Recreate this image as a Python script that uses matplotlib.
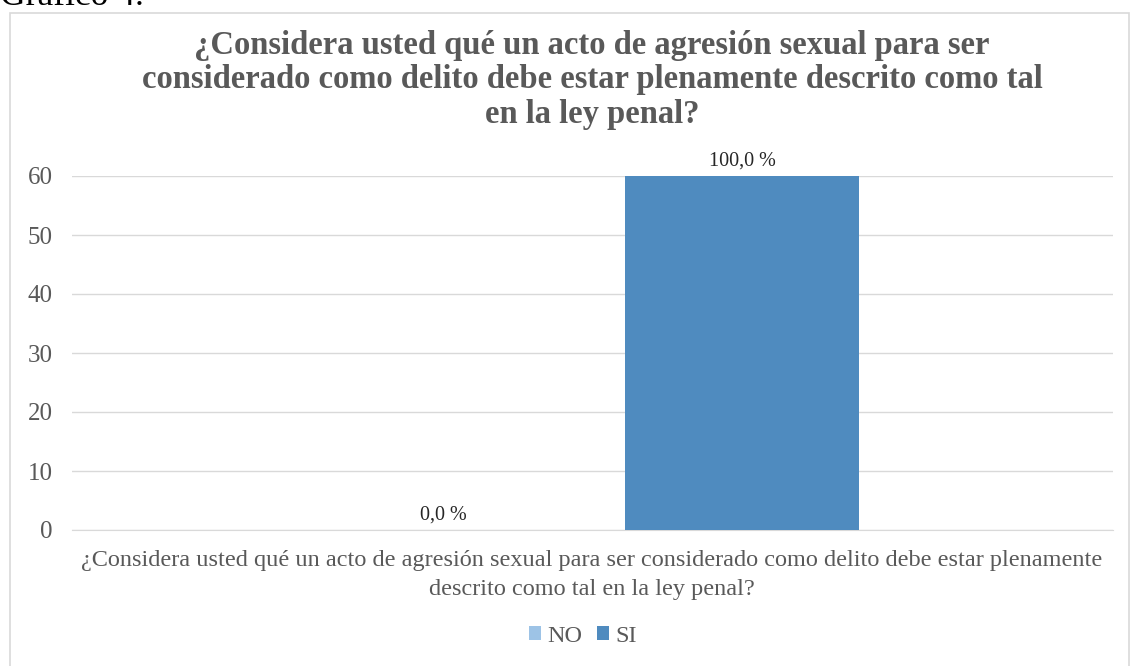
import matplotlib.pyplot as plt
from matplotlib.patches import Rectangle

plt.rcParams['font.family'] = ['Liberation Serif', 'DejaVu Serif']

series = ['NO', 'SI']
values = [0, 60]
labels = ['0,0 %', '100,0 %']
colors = ['#9DC3E6', '#4F8BBF']
yticks = [0, 10, 20, 30, 40, 50, 60]
title = '¿Considera usted qué un acto de agresión sexual para ser\nconsiderado como delito debe estar plenamente descrito como tal\nen la ley penal?'
xlabel = '¿Considera usted qué un acto de agresión sexual para ser considerado como delito debe estar plenamente\ndescrito como tal en la ley penal?'

fig = plt.figure(figsize=(11.31, 6.66), dpi=100)
ax = fig.add_axes([72/1131, 1-530/666, (1113-72)/1131, (530-176)/666])

# outer chart frame
fig.patches.append(Rectangle((10/1131, -0.01), 1119/1131, 1-13/666+0.01,
                             transform=fig.transFigure, fill=False,
                             edgecolor='#D9D9D9', lw=1.2))
# caption above the chart, cut by the top edge like in the original
fig.text(0.0, 1-5/666, 'Gráfico 4.', fontsize=25.5, va='baseline', ha='left', color='black')

w = 0.78
for i, (s, v, lab, c) in enumerate(zip(series, values, labels, colors)):
    ax.bar(i, v, width=w, color=c, label=s, zorder=3)
    ax.text(i, v + 1.8, lab, ha='center', va='baseline', fontsize=14.5, color='#262626')

ax.set_xlim(-1.241, 2.241)
ax.set_ylim(0, 60)
ax.set_yticks(yticks)
ax.yaxis.grid(True, color='#D9D9D9', lw=1, zorder=0)
ax.tick_params(axis='y', length=0, labelsize=18, labelcolor='#595959', pad=14)
ax.set_xticks([])
for sp in ['left', 'right', 'top']:
    ax.spines[sp].set_visible(False)
ax.spines['bottom'].set_color('#D9D9D9')

fig.text(592/1131, 1-123/666, title, ha='center', va='baseline', fontsize=23.5,
         fontweight='bold', color='#595959', linespacing=1.15)
fig.text(592/1131, 1-575/666, xlabel, ha='center', va='center', fontsize=17.5,
         color='#595959', linespacing=1.45)

leg = fig.legend(loc='center', bbox_to_anchor=(583/1131, 1-636/666), ncol=2, frameon=False,
                 fontsize=17.5, handlelength=0.5, handleheight=0.5, handletextpad=0.25,
                 columnspacing=0.6)
for t in leg.get_texts():
    t.set_color('#595959')

fig.savefig('out.png', dpi=100)
